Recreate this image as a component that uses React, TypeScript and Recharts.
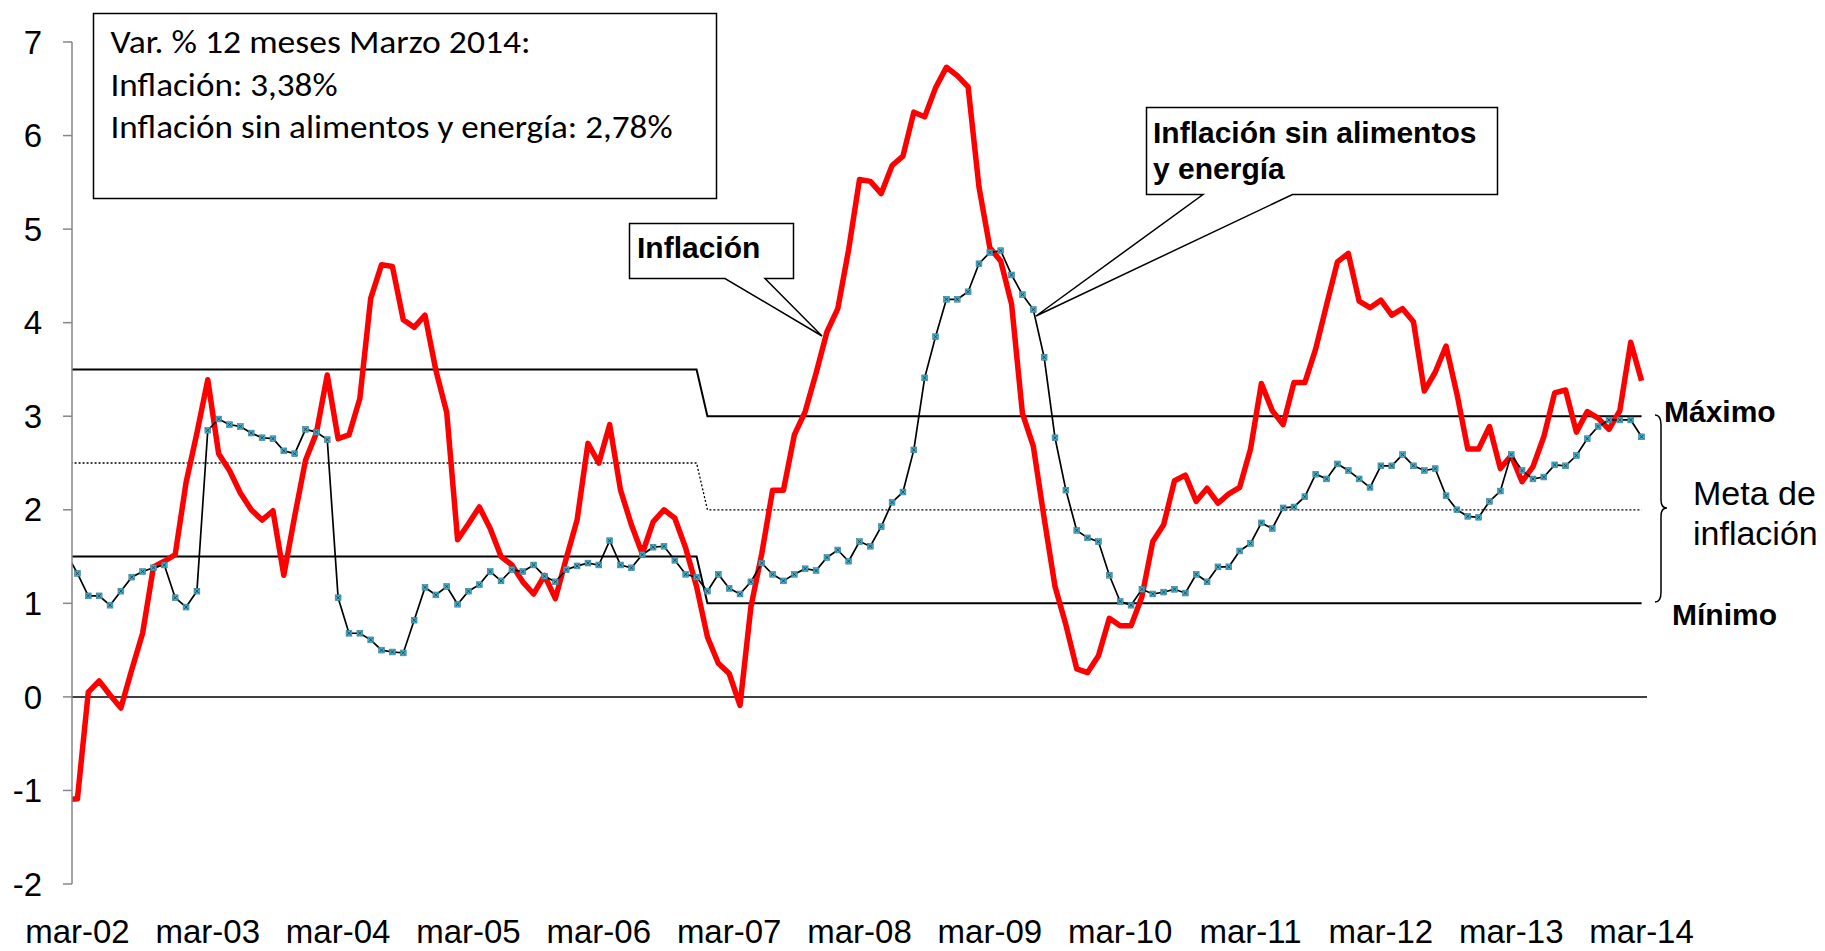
import { LineChart, Line, XAxis, YAxis, ReferenceLine } from 'recharts';

// x index: -1 = feb-02 (clipped by the axis), 0 = mar-02 ... 144 = mar-14
const primerMes = -1;

// Inflación (var. % 12 meses), feb-02 .. mar-14
const inflacion = [
  -1.10,
  -1.09, 0.05, 0.17, 0.02, -0.12, 0.29, 0.68, 1.39, 1.45, 1.52, 2.29, 2.82,
  3.39, 2.60, 2.42, 2.18, 2.00, 1.89, 1.99, 1.30, 1.93, 2.53, 2.82, 3.44,
  2.76, 2.80, 3.19, 4.26, 4.62, 4.60, 4.03, 3.95, 4.08, 3.49, 3.04, 1.68,
  1.85, 2.03, 1.80, 1.50, 1.41, 1.23, 1.10, 1.30, 1.05, 1.48, 1.89, 2.71,
  2.50, 2.91, 2.21, 1.84, 1.53, 1.87, 2.00, 1.91, 1.59, 1.18, 0.64, 0.36,
  0.25, -0.09, 0.96, 1.53, 2.21, 2.21, 2.80, 3.05, 3.46, 3.90, 4.15, 4.78,
  5.53, 5.51, 5.38, 5.68, 5.78, 6.25, 6.20, 6.51, 6.73, 6.64, 6.52, 5.45,
  4.80, 4.66, 4.20, 3.03, 2.68, 1.91, 1.18, 0.77, 0.30, 0.26, 0.44, 0.84,
  0.76, 0.76, 1.07, 1.66, 1.84, 2.31, 2.37, 2.09, 2.23, 2.07, 2.17, 2.24,
  2.65, 3.35, 3.06, 2.91, 3.36, 3.36, 3.72, 4.19, 4.65, 4.74, 4.23, 4.16,
  4.24, 4.08, 4.15, 4.01, 3.27, 3.47, 3.75, 3.24, 2.65, 2.65, 2.89, 2.44,
  2.58, 2.30, 2.46, 2.78, 3.25, 3.28, 2.83, 3.05, 2.98, 2.86, 3.06, 3.79,
  3.38,
];

// Inflación sin alimentos y energía
const subyacente = [
  1.53,
  1.32, 1.08, 1.08, 0.98, 1.13, 1.28, 1.34, 1.38, 1.41, 1.06, 0.96, 1.13,
  2.85, 2.97, 2.91, 2.89, 2.82, 2.77, 2.76, 2.63, 2.60, 2.86, 2.83, 2.75,
  1.06, 0.68, 0.68, 0.61, 0.50, 0.48, 0.47, 0.82, 1.17, 1.09, 1.18, 0.99,
  1.13, 1.20, 1.34, 1.24, 1.36, 1.34, 1.41, 1.29, 1.23, 1.36, 1.40, 1.43,
  1.41, 1.67, 1.41, 1.38, 1.52, 1.60, 1.61, 1.46, 1.31, 1.28, 1.13, 1.31,
  1.16, 1.10, 1.23, 1.43, 1.31, 1.24, 1.31, 1.37, 1.35, 1.49, 1.57, 1.45,
  1.66, 1.61, 1.82, 2.08, 2.19, 2.64, 3.41, 3.85, 4.25, 4.25, 4.33, 4.63,
  4.75, 4.77, 4.51, 4.30, 4.14, 3.63, 2.77, 2.21, 1.78, 1.70, 1.66, 1.30,
  1.02, 0.98, 1.15, 1.10, 1.12, 1.15, 1.11, 1.31, 1.23, 1.39, 1.39, 1.56,
  1.64, 1.86, 1.80, 2.02, 2.03, 2.14, 2.38, 2.33, 2.49, 2.42, 2.33, 2.24,
  2.47, 2.47, 2.59, 2.47, 2.42, 2.44, 2.15, 2.00, 1.93, 1.92, 2.09, 2.20,
  2.59, 2.42, 2.33, 2.35, 2.48, 2.47, 2.58, 2.76, 2.89, 2.96, 2.96, 2.96,
  2.78,
];

// meta de inflación: breakpoints (2.5% +/- 1 hasta dic-06, 2% +/- 1 desde ene-07)
const metaMeses = [-1, 57, 58, 144];
const metaMaximo = [3.5, 3.5, 3, 3];
const metaCentral = [2.5, 2.5, 2, 2];
const metaMinimo = [1.5, 1.5, 1, 1];

const etiquetasX = ['mar-02', 'mar-03', 'mar-04', 'mar-05', 'mar-06', 'mar-07', 'mar-08',
  'mar-09', 'mar-10', 'mar-11', 'mar-12', 'mar-13', 'mar-14'];
const ticksX = etiquetasX.map((_, i) => i * 12);
const ticksY = [-2, -1, 0, 1, 2, 3, 4, 5, 6, 7];

const datos = inflacion.map((v, i) => {
  const k = primerMes + i;
  const m = metaMeses.indexOf(k);
  return {
    k,
    inflacion: v,
    subyacente: subyacente[i],
    maximo: m >= 0 ? metaMaximo[m] : undefined,
    central: m >= 0 ? metaCentral[m] : undefined,
    minimo: m >= 0 ? metaMinimo[m] : undefined,
  };
});

const fuente = '"Liberation Sans", Arial, sans-serif';

const Marcador = (props: any) => {
  const { cx, cy, index } = props;
  if (cx == null || cy == null) return <g key={`m-${index}`} />;
  return (
    <g key={`m-${index}`}>
      <rect x={cx - 2.9} y={cy - 2.9} width={5.8} height={5.8} fill="#4BACC6" stroke="#2c7f96" strokeWidth={0.6} />
      <path d={`M${cx - 1.8},${cy - 1.8}L${cx + 1.8},${cy + 1.8}M${cx + 1.8},${cy - 1.8}L${cx - 1.8},${cy + 1.8}`}
        stroke="#1b3440" strokeWidth={0.8} />
    </g>
  );
};

function Anotaciones() {
  return (
    <svg width={1825} height={951} style={{ position: 'absolute', left: 0, top: 0, pointerEvents: 'none' }}>
      {/* recuadro superior izquierdo */}
      <rect x={93.5} y={13.5} width={623} height={185} fill="#fff" stroke="#000" strokeWidth={1.5} />
      <g fontFamily='Carlito, Calibri, Lato, sans-serif' fontSize={32} fill="#000">
        <text x={110.5} y={53} textLength={420} lengthAdjust="spacingAndGlyphs">Var. % 12 meses Marzo 2014:</text>
        <text x={110.5} y={96} textLength={227} lengthAdjust="spacingAndGlyphs">Inflación: 3,38%</text>
        <text x={110.5} y={138} textLength={562} lengthAdjust="spacingAndGlyphs">Inflación sin alimentos y energía: 2,78%</text>
      </g>

      {/* llamada Inflación */}
      <path d="M725,278.5 L629.5,278.5 L629.5,223.5 L793.5,223.5 L793.5,278.5 L765,278.5 L822,336 Z"
        fill="#fff" stroke="#000" strokeWidth={1.5} strokeLinejoin="miter" />
      <text x={637} y={258} fontFamily={fuente} fontWeight="bold" fontSize={30}>Inflación</text>

      {/* llamada subyacente */}
      <path d="M1203,194.5 L1146.5,194.5 L1146.5,107.5 L1497.5,107.5 L1497.5,194.5 L1292.5,194.5 L1036,316 Z"
        fill="#fff" stroke="#000" strokeWidth={1.5} />
      <text x={1153} y={142.5} fontFamily={fuente} fontWeight="bold" fontSize={30}>Inflación sin alimentos</text>
      <text x={1153} y={178.5} fontFamily={fuente} fontWeight="bold" fontSize={30}>y energía</text>

      {/* rango meta */}
      <text x={1664} y={421.5} fontFamily={fuente} fontWeight="bold" fontSize={30}>Máximo</text>
      <text x={1672} y={625} fontFamily={fuente} fontWeight="bold" fontSize={30}>Mínimo</text>
      <path d="M1655,415 Q1661,415 1661,425 L1661,500 Q1661,508 1667,508 Q1661,508 1661,516 L1661,592 Q1661,602 1655,602"
        fill="none" stroke="#000" strokeWidth={1.5} />
      <text x={1693} y={505} fontFamily={fuente} fontSize={34}>Meta de</text>
      <text x={1693} y={545} fontFamily={fuente} fontSize={34}>inflación</text>
    </svg>
  );
}

export default function App() {
  return (
    <div style={{ position: 'absolute', left: 0, top: 0, width: 1825, height: 951, background: '#fff' }}>
      <LineChart width={1825} height={951} data={datos}
        margin={{ top: 42, right: 178, bottom: 7, left: 0 }}>
        <XAxis
          type="number"
          dataKey="k"
          domain={[-0.5, 144.5]}
          allowDataOverflow
          ticks={ticksX}
          interval={0}
          tickFormatter={(v: number) => etiquetasX[Math.round(v / 12)]}
          axisLine={false}
          tickLine={false}
          tickSize={0}
          tickMargin={36}
          height={60}
          tick={{ fontSize: 33, fill: '#000', fontFamily: fuente }}
        />
        <YAxis
          type="number"
          domain={[-2, 7]}
          ticks={ticksY}
          interval={0}
          width={72}
          axisLine={{ stroke: '#868686', strokeWidth: 1.5 }}
          tickLine={{ stroke: '#868686', strokeWidth: 1.5 }}
          tickSize={9}
          tickMargin={21}
          tick={{ fontSize: 33, fill: '#000', fontFamily: fuente }}
        />
        <ReferenceLine y={0} stroke="#000" strokeWidth={1.5} />
        <Line dataKey="maximo" connectNulls stroke="#000" strokeWidth={2} dot={false} activeDot={false} isAnimationActive={false} />
        <Line dataKey="central" connectNulls stroke="#000" strokeWidth={1.3} strokeDasharray="2 2" dot={false} activeDot={false} isAnimationActive={false} />
        <Line dataKey="minimo" connectNulls stroke="#000" strokeWidth={2} dot={false} activeDot={false} isAnimationActive={false} />
        <Line dataKey="inflacion" stroke="#FF0000" strokeWidth={5.5} strokeLinejoin="round" dot={false} activeDot={false} isAnimationActive={false} />
        <Line dataKey="subyacente" stroke="#000" strokeWidth={1.7} dot={(p: any) => <Marcador {...p} key={`m-${p.index}`} />} activeDot={false} isAnimationActive={false} />
      </LineChart>
      <Anotaciones />
    </div>
  );
}
